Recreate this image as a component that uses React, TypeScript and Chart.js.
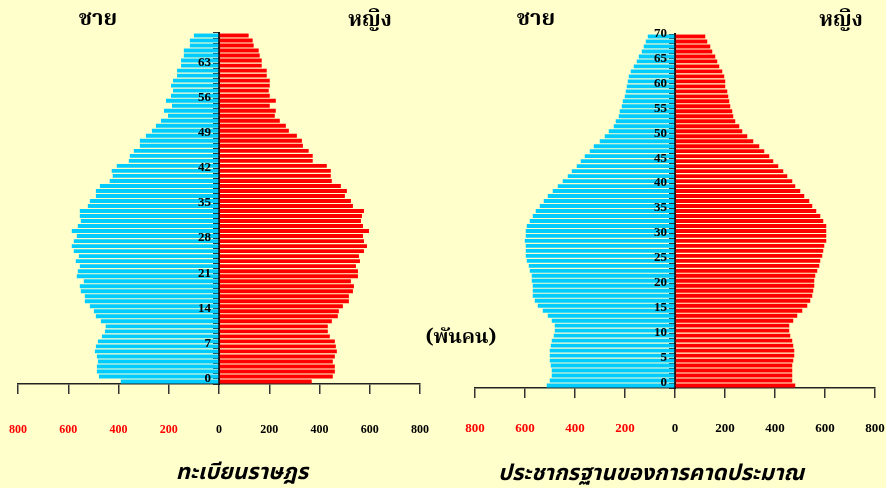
import React, { useEffect, useRef } from "react";
import { Chart, registerables } from "chart.js";

Chart.register(...registerables);

// ---------- DATA (thousands of persons), index = age ----------
const regAges: string[] = Array.from({ length: 70 }, (_, i) => String(i));
const regMale: number[] = [
  391, 478, 486, 486, 482, 486, 494, 490, 482, 466,
  454, 451, 470, 490, 498, 514, 534, 534, 550, 554,
  538, 566, 562, 554, 570, 558, 578, 586, 578, 566,
  586, 562, 550, 554, 554, 522, 514, 490, 490, 474,
  435, 423, 427, 407, 359, 355, 339, 315, 315, 291,
  267, 251, 231, 203, 219, 187, 211, 191, 183, 191,
  183, 167, 167, 151, 151, 140, 140, 116, 116, 100,
];
const regFemale: number[] = [
  369, 453, 461, 461, 453, 461, 469, 465, 461, 441,
  433, 433, 449, 473, 477, 493, 517, 517, 533, 537,
  525, 553, 553, 545, 561, 557, 577, 589, 577, 573,
  597, 573, 565, 569, 577, 533, 525, 501, 509, 485,
  449, 445, 445, 429, 373, 373, 357, 334, 330, 310,
  278, 266, 242, 222, 226, 202, 226, 202, 198, 202,
  202, 190, 190, 170, 170, 162, 158, 138, 134, 118,
];

const estAges: string[] = Array.from({ length: 71 }, (_, i) => String(i));
const estMale: number[] = [
  513, 501, 493, 493, 497, 501, 501, 501, 497, 493,
  485, 481, 481, 493, 509, 529, 549, 561, 569, 569,
  569, 573, 573, 581, 585, 593, 597, 597, 597, 601,
  597, 597, 593, 581, 569, 557, 541, 525, 509, 489,
  469, 449, 429, 413, 393, 377, 361, 341, 325, 301,
  281, 265, 245, 237, 225, 221, 213, 209, 201, 197,
  193, 189, 185, 177, 165, 153, 145, 133, 125, 117,
  109,
];
const estFemale: number[] = [
  481, 469, 469, 469, 469, 473, 477, 477, 473, 469,
  461, 457, 457, 473, 489, 509, 529, 541, 549, 553,
  557, 557, 561, 569, 577, 581, 589, 593, 597, 605,
  605, 605, 605, 593, 581, 565, 549, 537, 517, 501,
  481, 469, 449, 433, 413, 393, 377, 357, 337, 313,
  289, 269, 257, 241, 233, 229, 221, 217, 213, 209,
  201, 201, 197, 189, 177, 169, 161, 149, 141, 129,
  121,
];

const xTicks: number[] = [-800, -600, -400, -200, 0, 200, 400, 600, 800];

const MALE_COLOR = "#00CCFF";
const FEMALE_COLOR = "#FF0000";
const BG = "#FFFFCC";
const THAI_SERIF =
  '"Noto Serif Thai", "Noto Sans Thai Looped", "Norasi", "Loma", "Garuda", "Noto Sans Thai", "Liberation Serif", serif';
const THAI_SANS =
  '"Noto Sans Thai", "Loma", "Garuda", "Noto Serif Thai", "Liberation Sans", sans-serif';
const NUM_FONT = '"Liberation Serif", "Times New Roman", serif';

type PyramidProps = {
  ages: string[];
  male: number[];
  female: number[];
  step: number;
  left: number;
  width: number;
  padding: { left: number; right: number; top: number; bottom: number };
  tickFont: number;
  tickPad: number;
  ageFont: number;
};

function Pyramid(props: PyramidProps) {
  const ref = useRef<HTMLCanvasElement | null>(null);
  useEffect(() => {
    if (!ref.current) return;
    const { ages, male, female, step, padding, tickFont, tickPad, ageFont } = props;

    // draws the age labels on top of the bars, next to the centre axis
    const ageLabels = {
      id: "ageLabels",
      afterDatasetsDraw(chart: any) {
        const { ctx } = chart;
        const xs = chart.scales.x;
        const ys = chart.scales.y;
        const x0 = xs.getPixelForValue(0);
        ctx.save();
        ctx.font = `bold ${ageFont}px ${NUM_FONT}`;
        ctx.fillStyle = "#000000";
        ctx.textAlign = "right";
        ctx.textBaseline = "middle";
        ages.forEach((a, i) => {
          if (i % step !== 0) return;
          const y = ys.getPixelForValue(i) - 3;
          ctx.fillText(a, x0 - 8, y);
        });
        ctx.restore();
      },
    };

    const chart = new Chart(ref.current, {
      type: "bar",
      data: {
        labels: ages,
        datasets: [
          {
            label: "ชาย",
            data: male.map((v) => -v),
            backgroundColor: MALE_COLOR,
            barPercentage: 0.78,
            categoryPercentage: 1,
          },
          {
            label: "หญิง",
            data: female,
            backgroundColor: FEMALE_COLOR,
            barPercentage: 0.78,
            categoryPercentage: 1,
          },
        ],
      },
      plugins: [ageLabels],
      options: {
        indexAxis: "y",
        animation: false,
        responsive: false,
        maintainAspectRatio: false,
        layout: { padding },
        plugins: {
          legend: { display: false },
          tooltip: { enabled: false },
        },
        scales: {
          x: {
            type: "linear",
            min: xTicks[0],
            max: xTicks[xTicks.length - 1],
            stacked: true,
            afterBuildTicks: (scale: any) => {
              scale.ticks = xTicks.map((v) => ({ value: v }));
            },
            afterFit: (scale: any) => {
              scale.paddingLeft = 0;
              scale.paddingRight = 0;
              scale.height = 10 + tickPad + Math.round(tickFont * 1.2);
            },
            ticks: {
              callback: (v: any) => String(Math.abs(Number(v))),
              color: (ctx: any) => (ctx.tick && ctx.tick.value < 0 ? "#FF0000" : "#000000"),
              font: { family: NUM_FONT, weight: "bold", size: tickFont },
              padding: tickPad,
              maxRotation: 0,
              autoSkip: false,
            },
            grid: {
              drawOnChartArea: false,
              drawTicks: true,
              tickLength: 10,
              color: "#333333",
              lineWidth: 1.5,
            },
            border: { color: "#222222", width: 1.5 },
          },
          y: {
            type: "category",
            reverse: true,
            stacked: true,
            position: { x: 0 } as any,
            z: 1,
            afterFit: (scale: any) => {
              scale.width = 0;
              scale.paddingTop = 0;
              scale.paddingBottom = 0;
            },
            ticks: {
              display: false,
              autoSkip: false,
            },
            grid: {
              drawOnChartArea: false,
              drawTicks: true,
              tickLength: 5,
              color: "#333333",
              lineWidth: 1,
              offset: true,
            },
            border: { color: "#111111", width: 2 },
          },
        },
      },
    } as any);
    return () => chart.destroy();
  }, []);
  return (
    <canvas
      ref={ref}
      width={props.width}
      height={488}
      style={{ position: "absolute", left: props.left, top: 0, width: props.width, height: 488 }}
    />
  );
}

function Txt(p: { x: number; y: number; size: number; italic?: boolean; font: string; text: string }) {
  return (
    <div
      style={{
        position: "absolute",
        left: p.x,
        top: p.y,
        transform: "translate(-50%, -50%)",
        fontFamily: p.font,
        fontWeight: "bold",
        fontStyle: p.italic ? "italic" : "normal",
        fontSize: p.size,
        lineHeight: 1,
        whiteSpace: "nowrap",
        color: "#000",
      }}
    >
      {p.text}
    </div>
  );
}

export default function App() {
  useEffect(() => {
    document.body.style.margin = "0";
    document.body.style.background = BG;
  }, []);
  return (
    <div
      style={{
        position: "absolute",
        left: 0,
        top: 0,
        width: 886,
        height: 488,
        overflow: "hidden",
        background: BG,
      }}
    >
      <Pyramid
        ages={regAges}
        male={regMale}
        female={regFemale}
        step={7}
        left={0}
        width={443}
        padding={{ left: 18, right: 23, top: 33, bottom: 51 }}
        tickFont={12}
        tickPad={29}
        ageFont={13}
      />
      <Pyramid
        ages={estAges}
        male={estMale}
        female={estFemale}
        step={5}
        left={443}
        width={463}
        padding={{ left: 32, right: 31, top: 34, bottom: 51 }}
        tickFont={13}
        tickPad={23}
        ageFont={13}
      />
      <Txt x={98} y={20} size={22} font={THAI_SERIF} text="ชาย" />
      <Txt x={370} y={20} size={21} font={THAI_SERIF} text="หญิง" />
      <Txt x={536} y={20} size={22} font={THAI_SERIF} text="ชาย" />
      <Txt x={841} y={20} size={21} font={THAI_SERIF} text="หญิง" />
      <Txt x={461} y={338} size={20} font={THAI_SERIF} text="(พันคน)" />
      <Txt x={242} y={473} size={22} italic font={THAI_SANS} text="ทะเบียนราษฎร" />
      <Txt x={651} y={474} size={22} italic font={THAI_SANS} text="ประชากรฐานของการคาดประมาณ" />
    </div>
  );
}
